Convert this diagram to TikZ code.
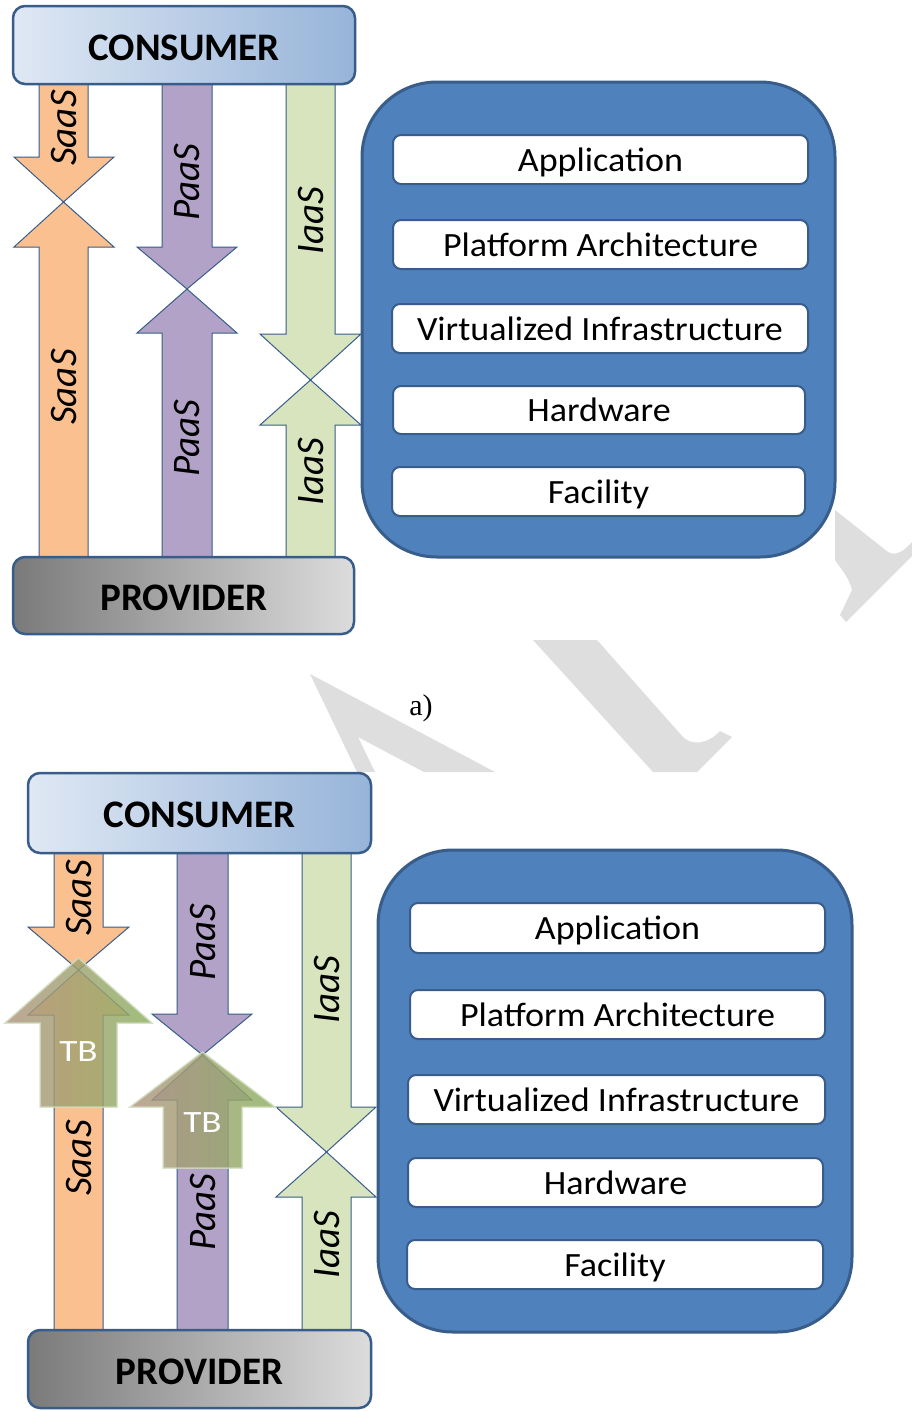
\documentclass[tikz,border=0pt]{standalone}
\usepackage{fontspec}
\setmainfont{Carlito}
\newfontfamily\capfont{Liberation Serif}
\newfontfamily\layerfont[FakeStretch=1.06]{Carlito}
\newfontfamily\tbfont[FakeStretch=1.2]{Carlito}
\usetikzlibrary{calc}
\definecolor{bord}{HTML}{385D8A}
\definecolor{saas}{HTML}{FAC090}
\definecolor{paas}{HTML}{B3A2C7}
\definecolor{iaas}{HTML}{D7E4BD}
\definecolor{stack}{HTML}{4F81BD}
\definecolor{conL}{HTML}{DFE8F4}
\definecolor{conR}{HTML}{97B4D9}
\definecolor{proL}{HTML}{7A7A7A}
\definecolor{proR}{HTML}{DCDCDC}
\definecolor{wmark}{HTML}{DEDEDE}
\definecolor{tbL}{HTML}{B09480}
\definecolor{tbM}{HTML}{8E8858}
\definecolor{tbR}{HTML}{8DB060}
% #1 style, #2/#3 shaft left/right, #4/#5 head left/right, #6 shaft end, #7 head base, #8 tip
\newcommand\blockarrow[8]{\draw[#1] (#2,#6) -- (#2,#7) -- (#4,#7) -- ({(#2+#3)/2},#8) -- (#5,#7) -- (#3,#7) -- (#3,#6) -- cycle;}
\tikzset{
  arr/.style={draw=bord, line width=1pt, line join=miter},
  tbarr/.style={left color=tbL, middle color=tbM, right color=tbR, fill opacity=0.82,
                draw=white!60!tbR, draw opacity=0.8, line width=1.5pt},
  hdrbox/.style={draw=bord, line width=2.5pt, rounded corners=12pt, minimum width=342pt, minimum height=78pt, inner sep=0pt},
  hdrtext/.style={font=\fontsize{39}{39}\selectfont\bfseries, inner sep=0pt},
  stackbox/.style={draw=bord, fill=stack, line width=3pt, rounded corners=75pt, inner sep=0pt},
  layer/.style={draw=bord, fill=white, line width=2pt, rounded corners=8pt, minimum height=49pt, inner sep=0pt,
                text height=23pt, text depth=0pt, font=\layerfont\fontsize{34}{34}\selectfont},
  lbl/.style={rotate=90, inner sep=0pt, font=\fontsize{39}{39}\selectfont\itshape},
  tblbl/.style={inner sep=0pt, text=white, font=\tbfont\fontsize{31}{31}\selectfont},
}
\begin{document}
\begin{tikzpicture}[x=1pt, y=-1pt]
\useasboundingbox (0,0) rectangle (912,1411);
\fill[white] (0,0) rectangle (912,1411);
% watermark remnants
\fill[wmark] (310,674) -- (495,772) -- (424,772) -- (358,737) -- (375,772) -- (357,772) -- cycle;
\fill[wmark] (533,640) -- (597,640) -- (683,737) .. controls (692,746) and (708,744) .. (720,731) -- (732,737) -- (697,772) -- (653,772) -- cycle;
\fill[wmark] (835,510) -- (888,552) .. controls (896,557) and (905,550) .. (912,542) -- (912,556) -- (846,622) -- (840,615) -- (852,590) .. controls (848,575) and (840,568) .. (835,560) -- cycle;

% ================= a) =================
% arrows
\blockarrow{arr, fill=saas}{39}{88}{14}{114}{80}{157}{202}
\blockarrow{arr, fill=saas}{39}{88}{14}{114}{560}{247}{202}
\blockarrow{arr, fill=paas}{162}{212}{137}{237}{80}{247}{289}
\blockarrow{arr, fill=paas}{162}{212}{137}{237}{560}{333}{289}
\blockarrow{arr, fill=iaas}{286}{335}{260}{361}{80}{334}{380}
\blockarrow{arr, fill=iaas}{286}{335}{260}{361}{560}{425}{380}
\node[lbl] (sA1) at (63.5,128) {SaaS};
\node[lbl] (sA2) at (63.5,387) {SaaS};
\node[lbl] (pA1) at (187,182) {PaaS};
\node[lbl] (pA2) at (187,438) {PaaS};
\node[lbl] (iA1) at (310.5,221) {IaaS};
\node[lbl] (iA2) at (310.5,472) {IaaS};
% consumer / provider
\node[hdrbox, left color=conL, right color=conR] (conA) at (184,45) {};
\node[hdrtext] (conAt) at (184,48) {CONSUMER};
\node[hdrbox, minimum width=341pt, minimum height=77pt, left color=proL, right color=proR] (proA) at (183.5,595.5) {};
\node[hdrtext] (proAt) at (184,598) {PROVIDER};
% stack
\draw[stackbox] (362,82) rectangle (835,557);
\node[layer, minimum width=415pt] (appA) at (600.5,159.5) {Application};
\node[layer, minimum width=415pt] (plaA) at (600.5,244.5) {Platform Architecture};
\node[layer, minimum width=416pt] (virA) at (600,328.5) {Virtualized Infrastructure};
\node[layer, minimum width=412pt, minimum height=48pt] (harA) at (599,410) {Hardware};
\node[layer, minimum width=413pt] (facA) at (598.5,491.5) {Facility};

\node[font=\capfont\fontsize{30}{30}\selectfont, inner sep=0pt] (capA) at (421,708) {a)};

% ================= b) =================
\blockarrow{arr, fill=saas}{54}{103}{28}{129}{848}{927}{970}
\blockarrow{arr, fill=saas}{54}{103}{28}{129}{1334}{1015}{970}
\blockarrow{arr, fill=paas}{177}{228}{152}{252}{848}{1014}{1055}
\blockarrow{arr, fill=paas}{177}{228}{152}{252}{1334}{1100}{1055}
\blockarrow{arr, fill=iaas}{302}{351}{276}{376}{848}{1107}{1152}
\blockarrow{arr, fill=iaas}{302}{351}{276}{376}{1334}{1197}{1152}
\node[lbl] (sB1) at (78.5,898) {SaaS};
\node[lbl] (sB2) at (78.5,1158) {SaaS};
\node[lbl] (pB1) at (202.5,942) {PaaS};
\node[lbl] (pB2) at (202.5,1212) {PaaS};
\node[lbl] (iB1) at (326.5,990) {IaaS};
\node[lbl] (iB2) at (326.5,1245) {IaaS};
% TB arrows
\blockarrow{tbarr}{40}{117}{5}{152}{1107}{1023}{958}
\node[tblbl] (tb1) at (78.5,1052) {TB};
\blockarrow{tbarr}{163}{242}{130}{275}{1168}{1107}{1052}
\node[tblbl] (tb2) at (202.5,1123) {TB};
% consumer / provider
\node[hdrbox, minimum width=343pt, minimum height=80pt, left color=conL, right color=conR] (conB) at (199.5,813) {};
\node[hdrtext] (conBt) at (199.5,815) {CONSUMER};
\node[hdrbox, minimum width=343pt, left color=proL, right color=proR] (proB) at (199.5,1369) {};
\node[hdrtext] (proBt) at (199.5,1372) {PROVIDER};
% stack
\draw[stackbox] (378,850) rectangle (852,1332);
\node[layer, minimum width=415pt, minimum height=50pt] (appB) at (617.5,928) {Application};
\node[layer, minimum width=415pt] (plaB) at (617.5,1014.5) {Platform Architecture};
\node[layer, minimum width=417pt] (virB) at (616.5,1099.5) {Virtualized Infrastructure};
\node[layer, minimum width=415pt] (harB) at (615.5,1182.5) {Hardware};
\node[layer, minimum width=416pt] (facB) at (615,1264.5) {Facility};
\end{tikzpicture}
\end{document}
